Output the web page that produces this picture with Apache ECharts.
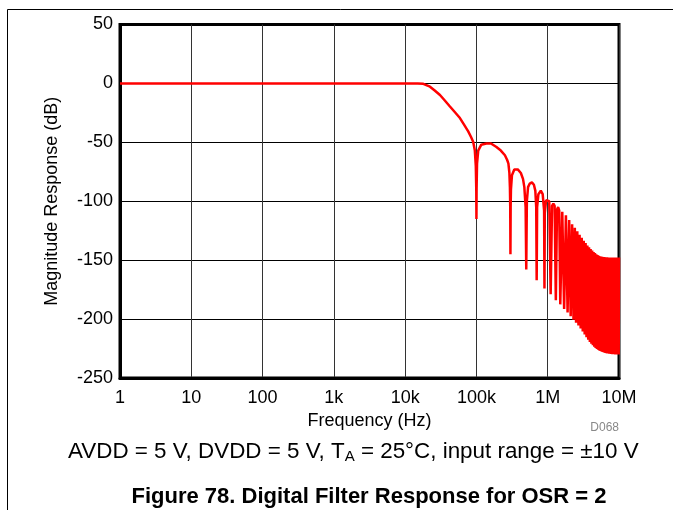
<!DOCTYPE html>
<html><head><meta charset="utf-8">
<script src="https://cdn.jsdelivr.net/npm/echarts@6/dist/echarts.min.js"></script>
<style>html,body{margin:0;padding:0;background:#fff}#c{width:673px;height:510px}</style>
</head><body><div id="c"></div>
<script>
// X tick labels per decade (1 Hz .. 10 MHz)
const xTickLabels = ['1', '10', '100', '1k', '10k', '100k', '1M', '10M'];
const yTicks = [-250, -200, -150, -100, -50, 0, 50];

// Passband and transition (frequency in kHz, magnitude in dB)
const passFreqKHz = [0.001, 0.01, 0.1, 1, 10, 15, 18, 22.3, 26, 30.8, 36, 42.5, 50, 58.7, 67, 76.7, 84, 90, 95, 98, 99.5, 100];
const passDb      = [0, 0, 0, 0, 0, 0, -0.3, -2.8, -6, -9.8, -14.5, -19.6, -24.5, -29.4, -35, -40.7, -45.5, -49.5, -57, -70, -90, -115];

// Separated side lobes (100 kHz .. 1.5 MHz)
const lobeFreqKHz = [100.5, 102, 106, 117, 138, 160, 191, 220, 251, 270, 281, 290, 295, 298, 300,
  302, 305, 315, 340, 380, 420, 450, 470, 490, 500,
  510, 530, 560, 600, 640, 670, 690, 700,
  710, 740, 800, 850, 890, 900,
  910, 950, 1000, 1050, 1100,
  1150, 1200, 1250, 1300,
  1350, 1400, 1450, 1500];
const lobeDb = [-90, -68, -57, -52, -51, -51, -54, -57, -61, -65, -68, -76, -88, -105, -145,
  -105, -90, -78, -73, -73, -76, -81, -88, -105, -158,
  -100, -88, -85, -84, -86, -91, -105, -167,
  -105, -94, -91, -94, -108, -174,
  -110, -99, -97.5, -100, -179,
  -104, -102, -104, -184,
  -107, -105, -108, -187.5];

// Dense lobes (1.6 MHz .. 10 MHz): peaks and notches
const denseFreqKHz = [1600,1700,1800,1900,2000,2100,2200,2300,2400,2500,2600,2700,2800,2900,3000,3100,3200,3300,3400,3500,
  3600,3700,3800,3900,4000,4100,4200,4300,4400,4500,4600,4700,4800,4900,5000,5100,5200,5300,5400,5500,
  5600,5700,5800,5900,6000,6100,6200,6300,6400,6500,6600,6700,6800,6900,7000,7100,7200,7300,7400,7500,
  7600,7700,7800,7900,8000,8100,8200,8300,8400,8500,8600,8700,8800,8900,9000,9100,9200,9300,9400,9500,
  9600,9700,9800,9900,10000];
const denseDb = [-109,-191.5,-112,-194.5,-116,-197.5,-119.5,-200.5,-122.5,-203,-125.5,-205.5,-128.5,-208,-131,-210.5,-133.5,-213,-135.5,-215.5,
  -137.5,-217.5,-139,-219.5,-140.5,-221,-141.8,-222.3,-143,-223.5,-144,-224.5,-145,-225.3,-145.7,-226,-146.2,-226.6,-146.6,-227.1,
  -146.9,-227.5,-147.1,-227.9,-147.3,-228.2,-147.4,-228.5,-147.5,-228.7,-147.6,-228.9,-147.6,-229.1,-147.7,-229.3,-147.7,-229.4,-147.7,-229.5,
  -147.8,-229.6,-147.8,-229.7,-147.8,-229.8,-147.8,-229.8,-147.8,-229.9,-147.8,-229.9,-147.8,-230,-147.8,-230,-147.8,-230,-147.8,-230,
  -147.8,-230,-147.8,-230,-147.8];

const freqKHz = passFreqKHz.concat(lobeFreqKHz, denseFreqKHz);
const magDb = passDb.concat(lobeDb, denseDb);
const seriesData = freqKHz.map((f, i) => [f * 1000, magDb[i]]);

const FONT = '"Liberation Sans", Arial, sans-serif';
const chart = echarts.init(document.getElementById('c'), null, {renderer: 'canvas'});
chart.setOption({
  animation: false,
  backgroundColor: '#fff',
  grid: {left: 120, top: 24.5, right: 54, bottom: 132, show: true, borderColor: '#000', borderWidth: 3, backgroundColor: 'transparent'},
  xAxis: {
    type: 'log', logBase: 10, min: 1, max: 1e7,
    name: 'Frequency (Hz)', nameLocation: 'middle', nameGap: 32,
    nameTextStyle: {fontFamily: FONT, fontSize: 18, color: '#000'},
    axisLine: {show: true, onZero: false, lineStyle: {color: '#000', width: 3}},
    axisTick: {show: false},
    axisLabel: {fontFamily: FONT, fontSize: 18, color: '#000', margin: 11,
      formatter: v => xTickLabels[Math.round(Math.log10(v))]},
    splitLine: {show: true, lineStyle: {color: '#333', width: 1}},
    minorSplitLine: {show: false}
  },
  yAxis: {
    type: 'value', min: yTicks[0], max: yTicks[yTicks.length - 1], interval: 50,
    name: 'Magnitude Response (dB)', nameLocation: 'middle', nameGap: 59,
    nameTextStyle: {fontFamily: FONT, fontSize: 18, color: '#000'},
    axisLine: {show: true, onZero: false, lineStyle: {color: '#000', width: 3}},
    axisTick: {show: false},
    axisLabel: {fontFamily: FONT, fontSize: 18, color: '#000', margin: 7},
    splitLine: {show: true, lineStyle: {color: '#000', width: 1}}
  },
  series: [{
    type: 'line', data: seriesData, showSymbol: false, symbol: 'none',
    lineStyle: {color: '#ff0000', width: 2.5}, z: 3, clip: true
  }],
  graphic: [
    {type: 'line', shape: {x1: 7.5, y1: 9.5, x2: 673, y2: 9.5}, style: {stroke: '#000', lineWidth: 1}},
    {type: 'line', shape: {x1: 7.5, y1: 9.5, x2: 7.5, y2: 510}, style: {stroke: '#000', lineWidth: 1}},
    {type: 'text', x: 619, y: 428, style: {text: 'D068', fontFamily: FONT, fontSize: 12, fill: '#888', textAlign: 'right', textVerticalAlign: 'middle'}},
    {type: 'text', x: 68, y: 452, style: {
      text: 'AVDD = 5 V, DVDD = 5 V, T{s|A} = 25°C, input range = ±10 V',
      fontFamily: FONT, fontSize: 22.4, fill: '#000', textAlign: 'left', textVerticalAlign: 'middle',
      rich: {s: {fontFamily: FONT, fontSize: 15, fill: '#000', verticalAlign: 'bottom', padding: [10, 0, 0, 0]}}
    }},
    {type: 'text', x: 369, y: 497, style: {text: 'Figure 78. Digital Filter Response for OSR = 2', fontFamily: FONT, fontSize: 22, fontWeight: 'bold', fill: '#000', textAlign: 'center', textVerticalAlign: 'middle'}}
  ]
});
</script></body></html>
